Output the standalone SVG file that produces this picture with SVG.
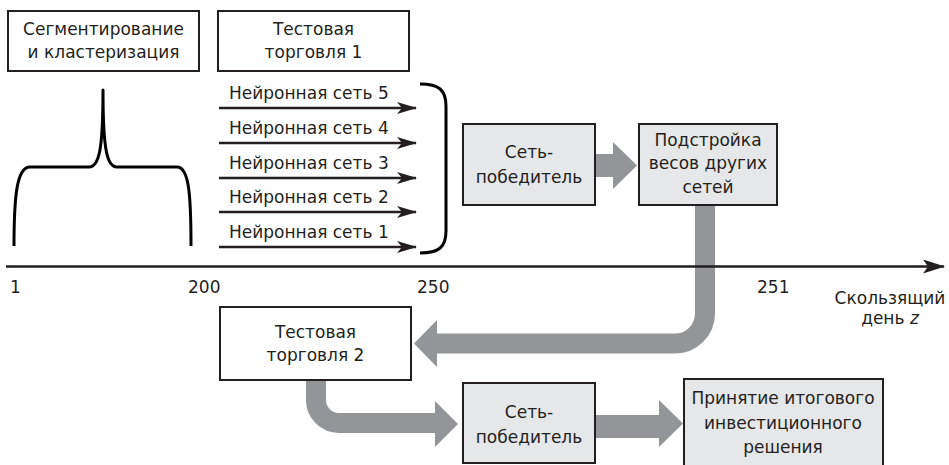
<svg xmlns="http://www.w3.org/2000/svg" width="949" height="465" viewBox="0 0 949 465">
<defs>
<style>
text{font-family:"DejaVu Sans","Liberation Sans",sans-serif;font-size:17px;fill:#231f20;text-anchor:middle}
.l{text-anchor:start}
.box{fill:#ffffff;stroke:#231f20;stroke-width:2}
.gbox{fill:#e6e7e8;stroke:#231f20;stroke-width:2}
.ln{fill:none;stroke:#231f20;stroke-width:2.5}
.br{fill:none;stroke:#000;stroke-width:3;stroke-linejoin:round}
.gc{fill:none;stroke:#939598;stroke-width:20}
.gh{fill:#939598}
</style>
<marker id="ah" viewBox="0 0 20 12" refX="19" refY="6" markerWidth="20" markerHeight="12" markerUnits="userSpaceOnUse" orient="auto">
<path d="M0,0 L20,6 L0,12 L5,6 Z" fill="#231f20"/>
</marker>
<marker id="ah2" viewBox="0 0 22 14" refX="21" refY="7" markerWidth="22" markerHeight="14" markerUnits="userSpaceOnUse" orient="auto">
<path d="M0,0 L22,7 L0,14 L5,7 Z" fill="#231f20"/>
</marker>
</defs>

<g id="connectors">
<path class="gc" d="M705,205 V313.5 A30,30 0 0 1 675,343.5 H436"/>
<polygon class="gh" points="437,320 414,343.5 437,367"/>
<path class="gc" d="M316,380 V400 A23,23 0 0 0 339,423 H436"/>
<polygon class="gh" points="435,401 458,424 435,447"/>
<rect class="gh" x="594" y="154" width="21" height="23"/>
<polygon class="gh" points="613,142 637,165.5 613,189"/>
<rect class="gh" x="594" y="415" width="67" height="23"/>
<polygon class="gh" points="659,400 683,423.5 659,447"/>
<line class="ln" x1="219" y1="108" x2="416" y2="108" marker-end="url(#ah)"/>
<line class="ln" x1="219" y1="143" x2="416" y2="143" marker-end="url(#ah)"/>
<line class="ln" x1="219" y1="178" x2="416" y2="178" marker-end="url(#ah)"/>
<line class="ln" x1="219" y1="212" x2="416" y2="212" marker-end="url(#ah)"/>
<line class="ln" x1="219" y1="247" x2="416" y2="247" marker-end="url(#ah)"/>
<line class="ln" x1="6" y1="266.5" x2="944" y2="266.5" marker-end="url(#ah2)"/>
</g>

<g id="bracket-left">
<path class="br" d="M14,246 C14,195 17,167 30,167 H89 C99,167 103,150 103,90 C103,150 107,167 117,167 H177 C189,167 191,195 191,246"/>
</g>
<g id="brace-right">
<path class="br" d="M420,84 C439,84 446,90 446,106 V231 C446,247 439,253 420,253"/>
</g>

<g id="n-seg">
<rect class="box" x="8" y="11" width="191" height="60"/>
<text x="103.5" y="35">Сегментирование</text>
<text x="103.5" y="58">и кластеризация</text>
</g>
<g id="n-test1">
<rect class="box" x="218" y="11" width="191" height="60"/>
<text x="313.5" y="35">Тестовая</text>
<text x="313.5" y="58">торговля 1</text>
</g>
<g id="n-nets">
<text class="l" x="229" y="99">Нейронная сеть 5</text>
<text class="l" x="229" y="134">Нейронная сеть 4</text>
<text class="l" x="229" y="169">Нейронная сеть 3</text>
<text class="l" x="229" y="203">Нейронная сеть 2</text>
<text class="l" x="229" y="238">Нейронная сеть 1</text>
</g>
<g id="n-win1">
<rect class="gbox" x="463" y="124" width="132" height="81"/>
<text x="529" y="158">Сеть-</text>
<text x="529" y="183">победитель</text>
</g>
<g id="n-adjust">
<rect class="gbox" x="639" y="124" width="138" height="81"/>
<text x="708" y="146">Подстройка</text>
<text x="708" y="169">весов других</text>
<text x="708" y="193">сетей</text>
</g>
<g id="n-test2">
<rect class="box" x="220" y="307" width="191" height="73"/>
<text x="315.5" y="338">Тестовая</text>
<text x="315.5" y="361">торговля 2</text>
</g>
<g id="n-win2">
<rect class="gbox" x="463" y="383" width="132" height="80"/>
<text x="529" y="418">Сеть-</text>
<text x="529" y="443">победитель</text>
</g>
<g id="n-decision">
<rect class="gbox" x="684" y="379" width="199" height="95"/>
<text x="783" y="404">Принятие итогового</text>
<text x="783" y="429">инвестиционного</text>
<text x="783" y="453">решения</text>
</g>
<g id="axis-labels">
<text class="l" x="10" y="293">1</text>
<text class="l" x="188" y="293">200</text>
<text class="l" x="417" y="293">250</text>
<text class="l" x="757" y="293">251</text>
<text x="890" y="304">Скользящий</text>
<text x="890" y="324">день <tspan font-style="italic">z</tspan></text>
</g>
</svg>
